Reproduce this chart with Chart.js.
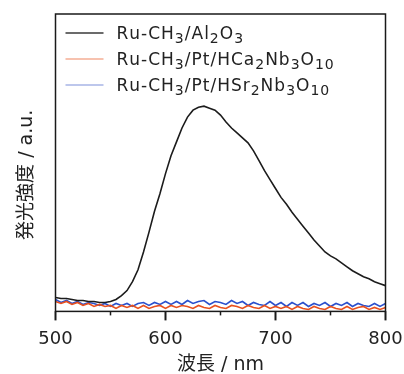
<!DOCTYPE html>
<html>
<head>
<meta charset="utf-8">
<script src="https://cdn.jsdelivr.net/npm/chart.js@4.4.0/dist/chart.umd.min.js"></script>
<style>
  html, body { margin: 0; padding: 0; background: #fff; }
</style>
</head>
<body>
<canvas id="chartPL" width="404" height="374"></canvas>
<script>
// wavelength (nm)
const wavelengths = [
  500, 505, 510, 515, 520, 525, 530, 535, 540, 545,
  550, 555, 560, 565, 570, 575, 580, 585, 590, 595,
  600, 605, 610, 615, 620, 625, 630, 635, 640, 645,
  650, 655, 660, 665, 670, 675, 680, 685, 690, 695,
  700, 705, 710, 715, 720, 725, 730, 735, 740, 745,
  750, 755, 760, 765, 770, 775, 780, 785, 790, 795, 800
];

// emission intensity (a.u.)
const alumina = [
  14, 13, 13, 12, 11, 11, 10, 10, 9, 9,
  10, 12, 16, 21, 30, 42, 60, 80, 101, 119,
  139, 157, 171, 185, 196, 203, 206, 207, 205, 203,
  198, 191, 185, 180, 175, 170, 162, 152, 142, 133,
  124, 115, 108, 100, 93, 86, 79, 72, 66, 60,
  56, 53, 49, 45, 41, 38, 35, 33, 30, 28, 26
];
const caNiobate = [
  10, 8, 10, 7, 9, 6, 8, 5, 7, 5,
  6, 3, 6, 4, 6, 3, 6, 3, 5, 6,
  3, 6, 4, 6, 5, 3, 6, 4, 3, 6,
  4, 3, 6, 5, 3, 6, 4, 3, 6, 3,
  5, 3, 5, 2, 5, 3, 2, 5, 3, 2,
  5, 3, 2, 5, 2, 4, 5, 2, 4, 2, 4
];
const srNiobate = [
  12, 9, 11, 8, 10, 7, 9, 8, 6, 8,
  5, 8, 6, 8, 5, 8, 9, 6, 9, 7,
  10, 7, 10, 7, 11, 8, 10, 11, 7, 10,
  9, 7, 11, 8, 10, 6, 9, 7, 6, 10,
  6, 9, 5, 9, 6, 9, 5, 8, 6, 9,
  5, 8, 6, 9, 5, 8, 6, 5, 8, 5, 8
];

const seriesLabels = ["Ru-CH3/Al2O3", "Ru-CH3/Pt/HCa2Nb3O10", "Ru-CH3/Pt/HSr2Nb3O10"];
const lineColors = ["#1c1c1c", "#e8501e", "#2b50cc"];
const legendColors = ["#3a3a3a", "#f4ae94", "#a7b4e6"];

const FONT = "'DejaVu Sans', 'Noto Sans CJK JP', sans-serif";

function points(values) {
  return wavelengths.map((w, i) => ({ x: w, y: values[i] }));
}

// box round the plot + tick marks under the x axis
const frame = {
  id: "frame",
  afterDraw(chart) {
    const { ctx, chartArea: a } = chart;
    const xs = chart.scales.x;
    ctx.save();
    ctx.strokeStyle = "#1a1a1a";
    ctx.lineWidth = 1.5;
    ctx.strokeRect(a.left, a.top, a.right - a.left, a.bottom - a.top);
    xs.ticks.forEach(t => {
      const px = xs.getPixelForValue(t.value);
      const major = t.value % 100 === 0;
      ctx.lineWidth = major ? 2 : 1.5;
      ctx.beginPath();
      ctx.moveTo(px, a.bottom);
      ctx.lineTo(px, a.bottom + (major ? 9 : 4));
      ctx.stroke();
    });
    ctx.restore();
  }
};

// legend inside the plot, digits of the formulas set as subscripts
const formulaLegend = {
  id: "formulaLegend",
  afterDraw(chart) {
    const { ctx, chartArea: a } = chart;
    ctx.save();
    chart.data.datasets.forEach((ds, i) => {
      const cy = a.top + 19 + i * 26;
      ctx.strokeStyle = legendColors[i];
      ctx.lineWidth = 1.6;
      ctx.beginPath();
      ctx.moveTo(a.left + 10, cy);
      ctx.lineTo(a.left + 48, cy);
      ctx.stroke();

      ctx.fillStyle = "#222";
      let x = a.left + 61;
      ds.label.split(/(\d+)/).forEach((part, k) => {
        if (!part) return;
        const sub = k % 2 === 1;
        ctx.font = (sub ? "14px " : "17px ") + FONT;
        for (const ch of part) {
          ctx.fillText(ch, x, cy + (sub ? 10 : 6));
          x += ctx.measureText(ch).width + 1;
        }
      });
    });
    ctx.restore();
  }
};

new Chart(document.getElementById("chartPL"), {
  type: "line",
  data: {
    datasets: [
      { label: seriesLabels[0], data: points(alumina), borderColor: lineColors[0], borderWidth: 1.6 },
      { label: seriesLabels[1], data: points(caNiobate), borderColor: lineColors[1], borderWidth: 1.6 },
      { label: seriesLabels[2], data: points(srNiobate), borderColor: lineColors[2], borderWidth: 1.6 }
    ]
  },
  options: {
    responsive: false,
    animation: false,
    layout: { padding: { top: 14, right: 18.5, left: 8, bottom: 0 } },
    elements: { point: { radius: 0 }, line: { tension: 0 } },
    plugins: {
      tooltip: { enabled: false },
      legend: { display: false }
    },
    scales: {
      x: {
        type: "linear",
        min: 500,
        max: 800,
        grid: { display: false, drawTicks: true, tickLength: 16 },
        border: { display: false },
        ticks: {
          stepSize: 50,
          padding: 1,
          color: "#222",
          font: { size: 18, family: FONT },
          maxRotation: 0,
          callback: v => (v % 100 === 0 ? v : "")
        },
        title: {
          display: true,
          text: "波長 / nm",
          color: "#222",
          font: { size: 19, family: FONT, lineHeight: 1 },
          padding: { top: 5, bottom: -1 }
        }
      },
      y: {
        type: "linear",
        min: 0,
        max: 300,
        grid: { display: false, drawTicks: false },
        border: { display: false },
        ticks: { display: false },
        title: {
          display: true,
          text: "発光強度 / a.u.    ",
          color: "#222",
          font: { size: 19, family: FONT, lineHeight: 1 },
          padding: { top: 9.5, bottom: 19 }
        }
      }
    }
  },
  plugins: [frame, formulaLegend]
});
</script>
</body>
</html>
